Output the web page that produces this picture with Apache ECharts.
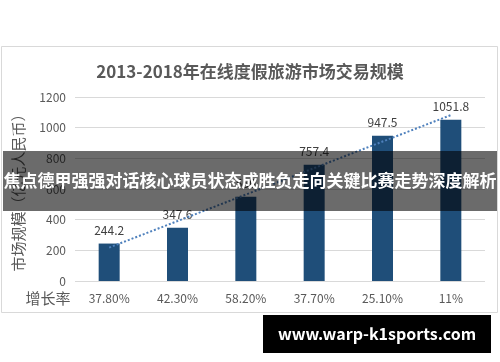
<!DOCTYPE html>
<html>
<head>
<meta charset="utf-8">
<script src="https://cdn.jsdelivr.net/npm/echarts@6/dist/echarts.min.js"></script>
<style>html,body{margin:0;padding:0;background:#fff;}#c{width:500px;height:362px;}</style>
</head>
<body>
<div id="c"></div>
<script>
var titleText = '2013-2018年在线度假旅游市场交易规模';
var growthLabels = ['37.80%', '42.30%', '58.20%', '37.70%', '25.10%', '11%'];
var marketValues = [244.2, 347.6, 550.0, 757.4, 947.5, 1051.8];
var trendValues = [218, null, null, null, null, 1082];
var yTicks = { min: 0, max: 1200, interval: 200 };
var bannerText = '焦点德甲强强对话核心球员状态成胜负走向关键比赛走势深度解析';
var watermarkText = 'www.warp-k1sports.com';

var FONT = '"Noto Sans CJK SC", "Noto Sans", sans-serif';
var chart = echarts.init(document.getElementById('c'), null, { renderer: 'canvas' });
chart.setOption({
  animation: false,
  backgroundColor: '#ffffff',
  textStyle: { fontFamily: FONT },
  title: {
    text: titleText, left: 'center', top: 58,
    textStyle: { fontSize: 17, fontWeight: 'bold', color: '#595959', fontFamily: FONT }
  },
  grid: { left: 75, right: 15, top: 97, bottom: 81 },
  xAxis: {
    type: 'category', data: growthLabels,
    axisLine: { show: false }, axisTick: { show: false },
    axisLabel: { color: '#595959', fontSize: 12, margin: 11, fontFamily: FONT }
  },
  yAxis: {
    type: 'value', min: yTicks.min, max: yTicks.max, interval: yTicks.interval,
    name: '市场规模（亿元人民币）', nameLocation: 'middle', nameRotate: 90, nameGap: 49,
    nameTextStyle: { color: '#595959', fontSize: 15, fontFamily: FONT },
    axisLine: { show: false }, axisTick: { show: false },
    axisLabel: { color: '#595959', fontSize: 12, margin: 9, fontFamily: FONT,
      formatter: function (v) { return String(v); } },
    splitLine: { lineStyle: { color: '#d9d9d9', width: 1 } }
  },
  series: [
    {
      type: 'bar', data: marketValues, barWidth: 21,
      itemStyle: { color: '#1f4e79' },
      label: { show: true, position: 'top', distance: 7, color: '#404040', fontSize: 12, fontFamily: FONT }
    },
    {
      type: 'line', data: trendValues, connectNulls: true, symbol: 'none', z: 3,
      lineStyle: { type: 'dotted', width: 2, color: '#4f81bd' }
    }
  ],
  graphic: [
    { type: 'rect', z: -1, shape: { x: 1.5, y: 46.5, width: 496, height: 266 },
      style: { fill: 'none', stroke: '#d9d9d9', lineWidth: 1 } },
    { type: 'text', x: 48, y: 298, z: 10,
      style: { text: '增长率', fill: '#595959', font: '15px ' + FONT, align: 'center', verticalAlign: 'middle' } },
    { type: 'rect', z: 100, shape: { x: 3, y: 151, width: 494, height: 60 },
      style: { fill: 'rgba(0,0,0,0.58)' } },
    { type: 'text', x: 250, y: 181, z: 101,
      style: { text: bannerText, fill: '#ffffff', font: 'bold 17px ' + FONT, align: 'center', verticalAlign: 'middle' } },
    { type: 'rect', z: 100, shape: { x: 263, y: 315, width: 228, height: 38 },
      style: { fill: '#000000' } },
    { type: 'text', x: 377, y: 334, z: 101,
      style: { text: watermarkText, fill: '#ffffff', font: 'bold 16px ' + FONT, align: 'center', verticalAlign: 'middle' } }
  ]
});
</script>
</body>
</html>
